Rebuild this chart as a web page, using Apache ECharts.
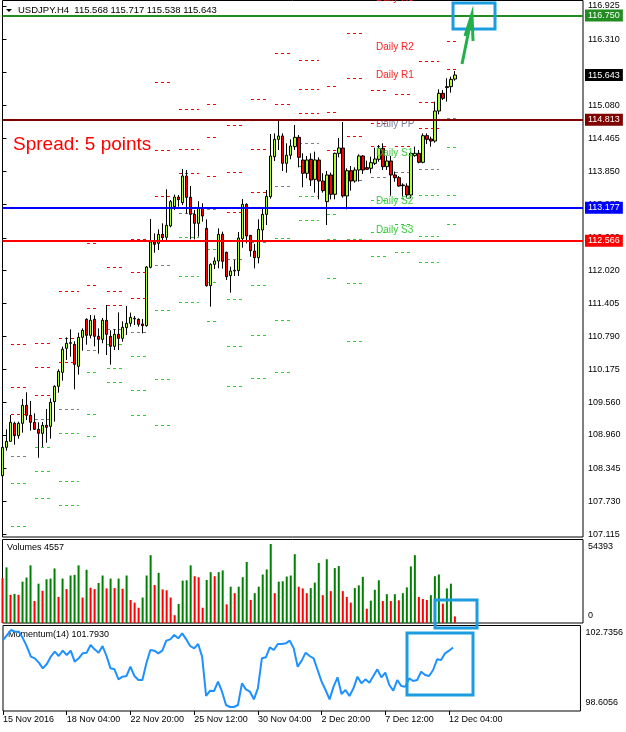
<!DOCTYPE html>
<html><head><meta charset="utf-8">
<script src="https://cdn.jsdelivr.net/npm/echarts@6/dist/echarts.min.js"></script>
<style>html,body{margin:0;padding:0;background:#fff}#c{width:626px;height:732px}</style>
</head><body><div id="c"></div>
<script>
// ---------------- data ----------------
const symbolName = 'USDJPY.H4';
const opens = [108.203,108.729,108.841,109.175,108.946,109.175,109.509,109.324,109.194,109.064,108.989,109.138,109.119,109.577,109.862,110.122,110.568,110.661,110.642,110.234,110.772,111.106,110.809,111.106,110.791,110.735,111.088,110.791,110.605,110.828,110.753,110.952,111.032,111.113,111.106,111.020,110.989,112.072,112.543,112.518,112.685,112.629,112.840,113.199,113.378,113.273,113.768,113.372,113.056,112.889,113.168,112.796,111.732,112.128,112.190,112.685,112.351,111.917,112.004,112.010,112.604,113.242,112.666,112.375,112.251,112.765,113.056,113.384,114.127,114.449,114.511,114.003,114.152,114.313,114.486,114.065,113.818,114.078,113.706,114.065,113.675,113.292,113.787,113.428,114.189,114.288,113.397,113.867,113.675,113.880,114.140,113.923,113.911,114.003,114.078,114.282,113.941,114.047,113.787,113.737,113.601,113.582,113.415,114.146,114.189,114.022,114.517,114.455,114.418,114.975,115.303,115.409,115.427,115.568];
const highs = [108.791,109.064,109.330,109.206,109.206,109.627,109.751,109.590,109.361,109.194,109.200,109.441,109.639,109.881,110.178,110.599,110.772,110.921,110.698,110.859,110.939,111.125,111.187,111.181,110.939,111.131,111.373,110.902,110.921,111.236,111.069,111.354,111.230,111.168,111.125,111.113,112.097,112.970,112.703,112.778,112.889,113.521,113.322,113.422,113.415,113.898,113.880,113.582,113.137,113.298,113.261,112.963,112.146,112.258,112.796,112.734,112.363,112.084,112.208,112.728,113.341,113.261,112.666,112.505,112.963,113.167,113.508,114.548,114.560,114.795,114.560,114.375,114.449,114.715,114.529,114.189,114.139,114.189,114.220,114.115,113.818,113.861,113.830,114.201,114.474,114.771,113.910,113.954,113.929,114.171,114.158,114.053,114.127,114.294,114.344,114.375,114.140,114.140,113.849,113.768,113.632,113.632,114.220,114.313,114.251,114.560,114.560,114.499,115.149,115.378,115.365,115.582,115.613,115.717];
const lows = [108.123,108.668,108.835,108.779,108.890,109.002,109.237,109.039,109.051,108.537,108.736,108.816,108.890,109.206,109.745,109.968,110.351,110.413,109.807,110.079,110.525,110.636,110.753,110.605,110.469,110.661,110.444,110.265,110.537,110.537,110.692,110.816,110.970,111.001,110.970,110.846,110.970,112.054,112.344,112.394,112.543,112.580,112.815,113.137,113.199,113.230,113.069,112.592,112.592,112.642,112.920,111.713,111.342,112.041,112.054,112.047,111.837,111.602,111.911,111.911,112.437,112.518,112.270,112.053,112.146,112.579,112.858,113.347,114.046,114.251,113.861,113.830,114.078,114.251,113.929,113.558,113.725,113.583,113.459,113.335,113.459,112.858,113.335,113.335,114.115,113.366,113.149,113.496,113.644,113.663,113.805,113.880,113.818,113.972,114.034,113.880,113.880,113.403,113.663,113.570,113.384,113.353,113.353,114.127,114.003,114.003,114.362,114.313,114.387,114.913,115.179,115.149,115.316,115.538];
const closes = [108.729,108.841,109.194,108.946,109.175,109.509,109.324,109.194,109.064,108.989,109.138,109.101,109.565,109.862,110.141,110.549,110.661,110.673,110.271,110.772,110.902,110.809,111.088,110.791,110.735,111.088,110.828,110.605,110.828,110.753,110.958,111.032,111.144,111.125,111.014,110.989,112.078,112.543,112.499,112.685,112.623,112.852,113.292,113.378,113.329,113.768,113.372,113.056,112.889,113.168,113.025,111.732,112.128,112.190,112.685,112.184,111.899,112.004,112.016,112.617,113.242,112.654,112.381,112.251,112.777,113.056,113.390,114.139,114.449,114.511,114.003,114.152,114.325,114.486,114.115,113.818,114.065,113.694,114.065,113.675,113.496,113.787,113.428,114.189,114.288,113.397,113.867,113.675,113.880,114.140,113.880,113.892,114.016,114.084,114.282,113.941,114.047,113.787,113.737,113.582,113.589,113.415,114.189,114.189,114.022,114.517,114.449,114.418,114.975,115.303,115.210,115.427,115.563,115.643];
const volumes = [30815,38286,19376,20077,19376,28481,31282,39687,15174,27080,22178,30115,30582,37585,17976,30582,23345,32683,33150,39687,17509,36652,24279,23345,27547,32683,23812,30582,24045,30582,23578,32683,15875,14007,10505,17509,32683,46690,26146,34551,23112,22512,17509,5369,13073,29181,29415,39687,32216,31516,10505,29648,35018,32216,35018,36185,12840,24979,20544,24979,31516,42021,15875,20544,24979,33383,36885,54393,20544,28481,28714,31983,32683,47390,24979,23812,20544,24045,27781,41321,19143,43889,21944,37819,39220,21944,17976,14007,24045,25913,31749,9805,15408,22878,29415,15174,19843,15174,19843,15641,20544,24512,38986,46690,17976,16544,15875,19143,32216,33383,13307,23812,27080,4557];
const momentum = [102.199,102.467,102.7356,102.646,102.646,102.289,101.842,101.305,101.216,100.983,100.679,100.912,101.305,101.573,101.341,101.627,101.395,101.627,101.037,101.216,101.484,101.520,101.931,101.699,101.520,101.877,101.341,100.679,100.626,100.089,100.232,100.268,100.769,100.268,100.054,100.054,100.948,101.663,101.627,101.484,101.627,102.163,102.235,102.467,102.289,102.557,102.235,101.877,101.752,101.985,101.305,99.195,99.481,99.464,99.964,99.428,98.713,98.6056,98.6056,98.713,99.875,99.553,99.428,99.017,99.607,101.216,101.269,101.806,101.663,101.985,101.985,102.020,102.163,101.752,100.769,101.091,101.520,101.341,101.216,100.590,99.964,99.517,99.017,99.696,100.197,99.303,99.517,99.195,99.607,100.232,99.875,100.089,99.911,100.268,100.626,100.197,100.447,99.785,99.481,100.054,99.732,99.696,100.143,100.000,100.054,100.501,100.322,100.268,100.590,101.162,101.126,101.484,101.627,101.793];
const xTickLabels = ['15 Nov 2016','18 Nov 04:00','22 Nov 20:00','25 Nov 12:00','30 Nov 04:00','2 Dec 20:00','7 Dec 12:00','12 Dec 04:00'];
const priceTicks = [116.925,116.310,115.695,115.080,114.465,113.850,113.235,112.620,112.020,111.405,110.790,110.175,109.560,108.960,108.345,107.730,107.115];
const volumeTicks = [0, 54393];
const momentumTicks = [98.6056, 102.7356];
const levelValues = [116.750, 114.813, 113.177, 112.566];
// daily pivots (one entry per day, first bar index of the day)
const pivotStarts = [3,9,15,21,27,33,39,45,51,57,63,69,75,81,87,93,99,105,111];
const fridayStarts = [15,45,75,105];
const mondayStarts = [21,51,81,111];
const pivotNames = ['R3','R2','R1','PP','S1','S2','S3'];
const pivR3 = [110.642,110.661,111.632,112.518,112.084,112.592,115.514,115.012,115.105,114.710,115.192,117.584,115.930,115.434,116.418,115.365,115.300,115.903,117.185];
const pivR2 = [109.844,110.215,110.754,111.744,111.627,111.980,114.251,114.264,114.498,113.837,114.264,116.052,115.378,114.962,115.582,114.760,114.819,115.148,116.269];
const pivR1 = [109.343,109.695,110.314,111.311,111.367,111.497,113.391,113.824,113.768,113.094,113.465,115.105,114.932,114.245,114.511,114.331,114.325,114.659,115.755];
const pivPP = [108.563,109.255,109.441,110.531,110.921,110.876,112.110,113.075,113.150,112.221,112.537,113.582,114.375,113.781,113.685,113.744,113.848,113.898,114.839];
const pivS1 = [108.062,108.730,108.990,110.122,110.642,110.420,111.274,112.630,112.407,111.478,111.738,112.611,113.948,113.057,112.592,113.322,113.354,113.415,114.306];
const pivS2 = [107.263,108.284,108.098,109.343,110.197,109.789,109.993,111.911,111.805,110.606,110.810,111.094,113.391,112.592,111.775,112.728,112.876,112.654,113.410];
const pivS3 = [106.767,107.783,107.653,108.934,109.937,109.324,109.139,111.434,111.070,109.863,110.011,110.122,112.945,111.865,110.704,112.282,112.357,112.171,112.871];

// ---------------- build ----------------
const FONT = '"Liberation Sans", Arial, sans-serif';
const SLOTS = 146;
const cats = Array.from({length: SLOTS}, (_, i) => String(i));
const last = closes.length - 1;
const candleData = opens.map((o, i) => [o, closes[i], lows[i], highs[i]]);
const volData = volumes.map((v, i) => ({value: v, itemStyle: {color: (i > 0 && v > volumes[i - 1]) ? '#008000' : '#FF0000'}}));
const pivLevels = [pivR3, pivR2, pivR1, pivPP, pivS1, pivS2, pivS3];
const pivColors = ['#FF0000','#FF0000','#FF0000','#808080','#32CD32','#32CD32','#32CD32'];
const pivTextColors = ['#FF2020','#FF2020','#FF2020','#7A7F9A','#3CCB3C','#3CCB3C','#3CCB3C'];
const segData = [];
pivotStarts.forEach((s, d) => {
  let a = -1, b = 2.75;
  if (fridayStarts.includes(s)) { a = -1; b = 4; }
  if (mondayStarts.includes(s)) { a = 0; b = 2.25; }
  pivLevels.forEach((arr, k) => segData.push([s + a, s + b, arr[d], k]));
});
const curDay = pivotStarts.length - 1;
const pivLabelData = pivLevels.map((arr, k) => [93.3, arr[curDay], k]);
const levelColors = ['#228B22', '#800000', '#0000FF', '#FF0000'];

const chart = echarts.init(document.getElementById('c'));
const axisLabelBase = {fontSize: 9, fontFamily: FONT, color: '#000'};
chart.setOption({
  animation: false,
  grid: [
    {left: 2.5, top: 0.5, width: 580.5, height: 536.5, show: true, borderColor: '#000', borderWidth: 1, backgroundColor: 'transparent'},
    {left: 2.5, top: 539.5, width: 580.5, height: 83.5, show: true, borderColor: '#000', borderWidth: 1, backgroundColor: 'transparent'},
    {left: 2.5, top: 625.5, width: 580.5, height: 85.5, show: true, borderColor: '#000', borderWidth: 1, backgroundColor: 'transparent'}
  ],
  xAxis: [
    {type: 'category', gridIndex: 0, data: cats, boundaryGap: false, axisLine: {show: false}, axisTick: {show: false}, axisLabel: {show: false}},
    {type: 'category', gridIndex: 1, data: cats, boundaryGap: false, axisLine: {show: false}, axisTick: {show: false}, axisLabel: {show: false}},
    {type: 'category', gridIndex: 2, data: cats, boundaryGap: false, axisLine: {show: false},
      axisTick: {show: true, length: 4, lineStyle: {color: '#000'}, interval: (i) => i % 16 === 0 && i / 16 < xTickLabels.length},
      axisLabel: Object.assign({}, axisLabelBase, {margin: 4, align: 'left', interval: (i) => i % 16 === 0 && i / 16 < xTickLabels.length,
        formatter: (v, i) => xTickLabels[i / 16] || ''})},
    {type: 'value', gridIndex: 0, min: 0, max: SLOTS - 1, show: false}
  ],
  yAxis: [
    {type: 'value', gridIndex: 0, position: 'right', min: 107.0643, max: 117.0271, splitLine: {show: false}, axisLine: {show: false},
      axisTick: {show: true, length: 4, lineStyle: {color: '#000'}, customValues: priceTicks},
      axisLabel: Object.assign({}, axisLabelBase, {margin: 5, customValues: priceTicks, formatter: v => Number(v).toFixed(3)})},
    {type: 'value', gridIndex: 1, position: 'right', min: 0, max: 57491, splitLine: {show: false}, axisLine: {show: false},
      axisTick: {show: false},
      axisLabel: Object.assign({}, axisLabelBase, {margin: 5, customValues: volumeTicks,
        formatter: v => v === 0 ? '{lo|0}' : '{hi|' + v + '}',
        rich: {lo: {fontSize: 9, fontFamily: FONT, padding: [0, 0, 14, 0]}, hi: {fontSize: 9, fontFamily: FONT, padding: [6, 0, 0, 0]}}})},
    {type: 'value', gridIndex: 2, position: 'right', min: 98.391, max: 102.977, splitLine: {show: false}, axisLine: {show: false},
      axisTick: {show: false},
      axisLabel: Object.assign({}, axisLabelBase, {margin: 5, customValues: momentumTicks,
        formatter: v => v < 100 ? '{lo|' + Number(v).toFixed(4) + '}' : '{hi|' + Number(v).toFixed(4) + '}',
        rich: {lo: {fontSize: 9, fontFamily: FONT, padding: [0, 0, 8, 0]}, hi: {fontSize: 9, fontFamily: FONT, padding: [6, 0, 0, 0]}}})}
  ],
  series: [
    {
      type: 'custom', name: 'pivots', xAxisIndex: 3, yAxisIndex: 0, clip: true, z: 1,
      encode: {x: [0, 1], y: 2},
      data: segData,
      renderItem: (params, api) => {
        const y = api.value(2);
        const p1 = api.coord([api.value(0), y]);
        const p2 = api.coord([api.value(1), y]);
        const yy = Math.round(p1[1]) + 0.5;
        return {type: 'line', shape: {x1: Math.round(p1[0]), y1: yy, x2: Math.round(p2[0]), y2: yy},
          style: {stroke: pivColors[api.value(3)], lineWidth: 1, lineDash: [3, 3]}};
      }
    },
    {
      type: 'candlestick', name: symbolName, xAxisIndex: 0, yAxisIndex: 0, barWidth: 3, z: 3,
      data: candleData,
      itemStyle: {color: '#ADFF2F', color0: '#FF0000', borderColor: '#000', borderColor0: '#000', borderWidth: 1},
      markLine: {
        symbol: 'none', silent: true, precision: 3, animation: false,
        label: {show: true, position: 'end', distance: 2, formatter: p => Number(p.value).toFixed(3), color: '#fff',
          padding: [2, 3, 1, 3], fontSize: 9, fontFamily: FONT},
        data: levelValues.map((v, k) => ({yAxis: v, lineStyle: {color: levelColors[k], width: 2, type: 'solid'},
          label: {backgroundColor: levelColors[k]}}))
          .concat([{yAxis: closes[last], lineStyle: {color: 'rgba(0,0,0,0)', width: 1, type: 'solid'}, label: {backgroundColor: '#000'}}])
      }
    },
    {
      type: 'custom', name: 'pivotLabels', xAxisIndex: 3, yAxisIndex: 0, z: 4,
      encode: {x: 0, y: 1},
      data: pivLabelData,
      renderItem: (params, api) => {
        const p = api.coord([api.value(0), api.value(1)]);
        const k = api.value(2);
        return {type: 'text', x: p[0], y: p[1] + 1,
          style: {text: 'Daily ' + pivotNames[k], fill: pivTextColors[k], font: '10px ' + FONT, align: 'left', verticalAlign: 'top'}};
      }
    },
    {
      type: 'bar', name: 'Volumes', xAxisIndex: 1, yAxisIndex: 1, barWidth: 2, data: volData
    },
    {
      type: 'line', name: 'Momentum(14)', xAxisIndex: 2, yAxisIndex: 2, data: momentum, symbol: 'none',
      lineStyle: {color: '#1E90FF', width: 2}
    }
  ],
  graphic: [
    {type: 'polygon', shape: {points: [[6, 9], [12, 9], [9, 12]]}, style: {fill: '#000'}},
    {type: 'text', x: 18, y: 10, style: {text: symbolName + '  ' + [opens[last], highs[last], lows[last], closes[last]].map(v => v.toFixed(3)).join(' '),
      fill: '#000', font: '9.5px ' + FONT, verticalAlign: 'middle'}},
    {type: 'text', x: 13, y: 145, style: {text: 'Spread: 5 points', fill: '#FF0000', font: '19px ' + FONT, verticalAlign: 'middle'}},
    {type: 'text', x: 7, y: 548, style: {text: 'Volumes ' + volumes[last], fill: '#000', font: '9px ' + FONT, verticalAlign: 'middle'}},
    {type: 'text', x: 8, y: 635, style: {text: 'Momentum(14) ' + momentum[last].toFixed(4), fill: '#000', font: '9px ' + FONT, verticalAlign: 'middle'}},
    {type: 'rect', shape: {x: 453, y: 3, width: 42, height: 26}, style: {fill: 'none', stroke: '#1C9BDE', lineWidth: 3}, z: 100},
    {type: 'rect', shape: {x: 435, y: 600, width: 42, height: 28}, style: {fill: 'none', stroke: '#1C9BDE', lineWidth: 3}, z: 100},
    {type: 'rect', shape: {x: 407, y: 633, width: 66, height: 62}, style: {fill: 'none', stroke: '#1C9BDE', lineWidth: 3}, z: 100},
    {type: 'polyline', shape: {points: [[462, 64], [472, 15]]}, style: {stroke: '#22B04A', lineWidth: 3, fill: 'none'}, z: 100},
    {type: 'polyline', shape: {points: [[465, 36], [472, 14], [473, 41]]}, style: {stroke: '#22B04A', lineWidth: 3, fill: 'none'}, z: 100}
  ]
});
</script>
</body></html>
